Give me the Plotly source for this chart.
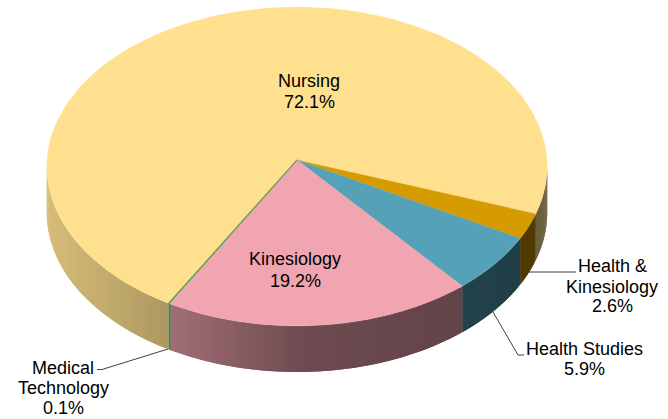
import math
import plotly.graph_objects as go

categories = ["Nursing", "Health &<br>Kinesiology", "Health Studies", "Kinesiology", "Medical<br>Technology"]
values = [72.1, 2.6, 5.9, 19.2, 0.1]
top_colors = ["#FFE08F", "#D69B00", "#55A2B8", "#F0A5B0", "#6FA060"]

W, H = 668, 419
CX, CY, A, B, K, DEPTH = 297, 160, 250, 159.2, 0.0407, 46
START = 209.7  # clockwise from 12 o'clock


def pt(deg, dy=0.0):
    a = math.radians(deg)
    u, v = math.sin(a), math.cos(a)
    p = 1 + K * v
    return CX + A * u / p, CY - B * v / p + dy


def shade_at(x):
    stops = [(47, 0.84), (167, 0.68), (300, 0.46), (461, 0.41), (520, 0.38), (534, 0.37), (536, 0.42), (547, 0.44)]
    for (x0, s0), (x1, s1) in zip(stops, stops[1:]):
        if x <= x1:
            return s0 + (s1 - s0) * (x - x0) / (x1 - x0)
    return stops[-1][1]


def mix(hex_color, k):
    r, g, b = (int(hex_color[i:i + 2], 16) for i in (1, 3, 5))
    return f"rgb({r * k:.0f},{g * k:.0f},{b * k:.0f})"


fig = go.Figure()
angle = START
spans = []
for v, c in zip(values, top_colors):
    sweep = v / sum(values) * 360
    spans.append((angle, angle + sweep, c))
    angle += sweep

# side wall (only the front part is visible): strips overlap the next one inside a slice
for a0, a1, c in spans:
    for shift in (0, -360):
        u0, u1 = max(a0 + shift, 92.3), min(a1 + shift, 267.7)
        if u1 <= u0:
            continue
        n = max(1, int((u1 - u0) / 0.75))
        for i in range(n):
            s0 = u0 + (u1 - u0) * i / n
            s1 = u0 + (u1 - u0) * (i + 1) / n
            s2 = u0 + (u1 - u0) * min(i + 2, n) / n
            p0, pm, p1 = pt(s0), pt(s1), pt(s2)
            xs = [p0[0], p1[0], p1[0], p0[0], p0[0]]
            ys = [p0[1], p1[1], p1[1] + DEPTH, p0[1] + DEPTH, p0[1]]
            col = mix(c, shade_at((p0[0] + pm[0]) / 2))
            fig.add_trace(go.Scatter(x=xs, y=ys, mode="lines", fill="toself", fillcolor=col,
                                     line=dict(color=col, width=0), hoverinfo="skip", showlegend=False))

# top faces
for (a0, a1, c), v in zip(spans, values):
    n = max(2, int((a1 - a0) / 1.0))
    pts = [pt(a0 + (a1 - a0) * i / n) for i in range(n + 1)]
    xs = [CX] + [p[0] for p in pts] + [CX]
    ys = [CY] + [p[1] for p in pts] + [CY]
    fig.add_trace(go.Scatter(x=xs, y=ys, mode="lines", fill="toself", fillcolor=c,
                             line=dict(color=c, width=1.2 if v < 1 else 0.3), hoverinfo="skip", showlegend=False))

# medical technology sliver on the wall
m0 = pt(spans[4][0])
fig.add_trace(go.Scatter(x=[m0[0], m0[0]], y=[m0[1], m0[1] + DEPTH], mode="lines",
                         line=dict(color="#4F8A50", width=1.2), hoverinfo="skip", showlegend=False))

# leader lines
for seg in ([(97, 369.5), (102, 369.5), (168, 349)],
            [(525, 272), (576, 272)],
            [(493, 312), (518, 355), (524, 355)]):
    fig.add_trace(go.Scatter(x=[p[0] for p in seg], y=[p[1] for p in seg], mode="lines",
                             line=dict(color="#404040", width=1), hoverinfo="skip", showlegend=False))

# labels: one annotation per line so that the line spacing matches
label_pos = [(309, [81, 102]), (612, [266, 287, 306]), (584, [349, 369]), (295, [259, 281]), (63, [368, 388, 408])]
for name, v, (x, ys) in zip(categories, values, label_pos):
    for line, y in zip(name.split("<br>") + [f"{v:.1f}%"], ys):
        fig.add_annotation(x=x, y=y, text=line, showarrow=False, xanchor="center", yanchor="middle",
                           font=dict(family="Liberation Sans, Arial, sans-serif", size=18, color="#000000"))

fig.update_layout(width=W, height=H, margin=dict(l=0, r=0, t=0, b=0), paper_bgcolor="white", plot_bgcolor="white",
                  showlegend=False,
                  xaxis=dict(range=[0, W], visible=False, fixedrange=True),
                  yaxis=dict(range=[H, 0], visible=False, fixedrange=True))
fig.write_html("out.html", config={"displayModeBar": False},
               post_script="document.body.style.margin='0';document.body.style.overflow='hidden';")
